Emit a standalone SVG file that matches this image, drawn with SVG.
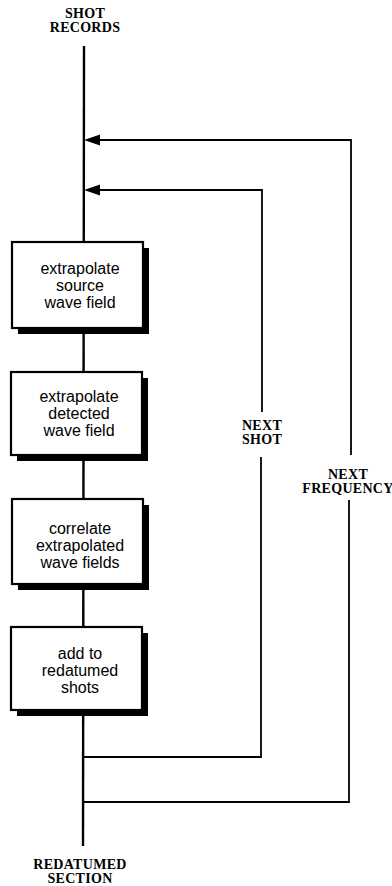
<svg xmlns="http://www.w3.org/2000/svg" width="392" height="886" viewBox="0 0 392 886">
<style>
.lbl{font-family:"Liberation Serif","DejaVu Serif",serif;font-size:14px;font-weight:bold;letter-spacing:0.3px;text-anchor:middle;fill:#000}
.bt{font-family:"Liberation Sans",Arial,sans-serif;font-size:16px;text-anchor:middle;fill:#000}
.box{fill:#fff;stroke:#000;stroke-width:2.2}
.sh{fill:#000}
.ln{fill:none;stroke:#000;stroke-width:2.4}
.ln2{fill:none;stroke:#000;stroke-width:1.8}
.ah{fill:#000}
</style>
<rect width="392" height="886" fill="#fff"/>
<text class="lbl" x="85" y="18">SHOT</text>
<text class="lbl" x="85" y="32">RECORDS</text>
<g id="connectors">
<line class="ln" x1="84" y1="46" x2="83" y2="846"/>
<polyline class="ln2" points="100,140 351,140 351,455"/>
<polyline class="ln2" points="349,500 349,802 83,802"/>
<polygon class="ah" points="84,140 100,134.5 100,145.5"/>
<polyline class="ln2" points="100,190 262,190 262,412"/>
<polyline class="ln2" points="261,457 261,757 83,757"/>
<polygon class="ah" points="84,190 100,184.5 100,195.5"/>
</g>
<g id="n1">
<rect class="sh" x="18" y="248" width="131" height="86"/>
<rect class="box" x="12" y="242" width="131" height="86"/>
<text class="bt" x="80" y="274">extrapolate</text>
<text class="bt" x="80" y="291">source</text>
<text class="bt" x="80" y="308">wave field</text>
</g>
<g id="n2">
<rect class="sh" x="17" y="378" width="131" height="83"/>
<rect class="box" x="11" y="372" width="131" height="83"/>
<text class="bt" x="79" y="402">extrapolate</text>
<text class="bt" x="79" y="419">detected</text>
<text class="bt" x="79" y="436">wave field</text>
</g>
<g id="n3">
<rect class="sh" x="18" y="505" width="131" height="85"/>
<rect class="box" x="12" y="499" width="131" height="85"/>
<text class="bt" x="80" y="534">correlate</text>
<text class="bt" x="80" y="551">extrapolated</text>
<text class="bt" x="80" y="568">wave fields</text>
</g>
<g id="n4">
<rect class="sh" x="17" y="633" width="131" height="83"/>
<rect class="box" x="11" y="627" width="131" height="83"/>
<text class="bt" x="80" y="659">add to</text>
<text class="bt" x="80" y="676">redatumed</text>
<text class="bt" x="80" y="693">shots</text>
</g>
<text class="lbl" x="262" y="430">NEXT</text>
<text class="lbl" x="262" y="444">SHOT</text>
<text class="lbl" x="348" y="479">NEXT</text>
<text class="lbl" x="348" y="493">FREQUENCY</text>
<text class="lbl" x="80" y="869">REDATUMED</text>
<text class="lbl" x="80" y="883">SECTION</text>
</svg>
